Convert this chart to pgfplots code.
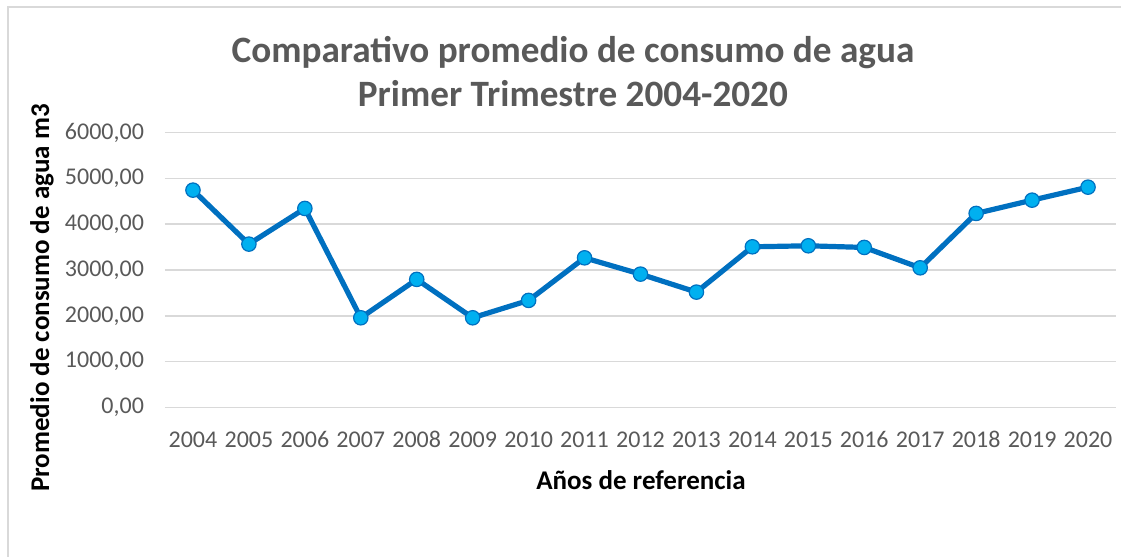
\documentclass[border=0pt]{standalone}
\usepackage{fontspec}
\setmainfont{Carlito}
\usepackage{pgfplots}
\pgfplotsset{compat=1.18}
\definecolor{lineblue}{HTML}{0070C0}
\definecolor{markfill}{HTML}{00B0F0}
\definecolor{gridgray}{HTML}{D9D9D9}
\definecolor{txtgray}{HTML}{595959}
\begin{document}
\begin{tikzpicture}
\useasboundingbox (0,0) rectangle (560.5pt,278.5pt);
\draw[gridgray, line width=0.75pt] (4pt,-1pt) -- (4pt,275pt) -- (561pt,275pt);
\begin{axis}[
  scale only axis,
  width=475.5pt, height=137.3pt,
  at={(82.5pt,74.85pt)}, anchor=south west,
  xmin=-0.5, xmax=16.5, ymin=0, ymax=6000,
  xtick={0,...,16},
  xticklabels={2004,2005,2006,2007,2008,2009,2010,2011,2012,2013,2014,2015,2016,2017,2018,2019,2020},
  ytick={0,1000,2000,3000,4000,5000,6000},
  yticklabels={{0,00},{1000,00},{2000,00},{3000,00},{4000,00},{5000,00},{6000,00}},
  ymajorgrids,
  major grid style={gridgray, line width=0.75pt},
  axis line style={draw=none},
  major tick length=0pt,
  tick style={draw=none},
  ticklabel style={font=\fontsize{12}{14}\selectfont, text=txtgray},
  xticklabel style={anchor=base, yshift=-20pt},
  yticklabel style={xshift=-7pt},
  clip=false,
]
\addplot[lineblue, line width=2.6pt, mark=*, mark size=3.6pt,
  mark options={fill=markfill, draw=lineblue, line width=0.6pt}]
coordinates {
(0,4745) (1,3566) (2,4345) (3,1956) (4,2795) (5,1956) (6,2336) (7,3266)
(8,2910) (9,2517) (10,3507) (11,3529) (12,3493) (13,3048) (14,4236) (15,4526) (16,4810)
};
\end{axis}
\node[anchor=base, font=\bfseries\fontsize{18.6}{22}\selectfont, text=txtgray] at (286.5pt,247pt) {Comparativo promedio de consumo de agua};
\node[anchor=base, font=\bfseries\fontsize{18.6}{22}\selectfont, text=txtgray] at (286.5pt,225pt) {Primer Trimestre 2004-2020};
\node[anchor=center, font=\bfseries\fontsize{13.5}{16}\selectfont] at (320.5pt,38.5pt) {Años de referencia};
\node[anchor=center, rotate=90, font=\bfseries\fontsize{13.5}{16}\selectfont] at (21pt,129.5pt) {Promedio de consumo de agua m3};
\end{tikzpicture}
\end{document}
